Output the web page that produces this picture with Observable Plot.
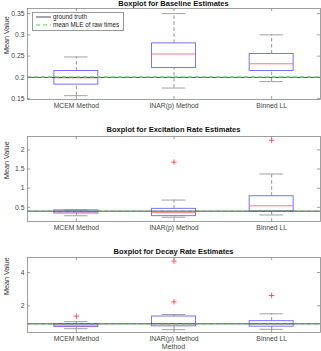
<!DOCTYPE html>
<html>
<head>
<meta charset="utf-8">
<script src="https://cdn.jsdelivr.net/npm/d3@7"></script>
<script src="https://cdn.jsdelivr.net/npm/@observablehq/plot@0.6"></script>
<style>
  body { margin: 0; background: #fff; font-family: "Liberation Sans", Arial, sans-serif; }
  #wrap { position: relative; width: 321px; height: 351px; overflow: hidden; }
  .panel { position: absolute; left: 0; }
  .title { position: absolute; left: 27px; width: 293px; text-align: center; font-weight: bold; font-size: 7.5px; color: #111; }
  .legend { position: absolute; left: 32px; top: 12px; width: 90px; height: 17px; border: 1px solid #999; background: #fff; font-size: 6.3px; color: #222; }
  .legend .row { position: absolute; left: 3px; height: 8px; line-height: 8px; white-space: nowrap; }
  .legend .sw { display: inline-block; width: 15px; vertical-align: middle; margin-right: 2px; }
  .xlabel { position: absolute; left: 27px; width: 293px; text-align: center; font-size: 7px; color: #444; top: 343px; }
</style>
</head>
<body>
<div id="wrap"></div>
<script>
// ---------- data ----------
const categories = ["MCEM Method", "INAR(p) Method", "Binned LL"];

// Baseline estimates
const baseLow = [0.157, 0.175, 0.19];
const baseQ1  = [0.183, 0.222, 0.215];
const baseMed = [0.199, 0.255, 0.232];
const baseQ3  = [0.215, 0.280, 0.255];
const baseHigh = [0.248, 0.350, 0.300];
const baseOutCat = [];
const baseOutVal = [];
const baseTruth = 0.2;
const baseMLE = 0.2015;
const baseTicks = [0.15, 0.2, 0.25, 0.3, 0.35];

// Excitation rate estimates
const excLow = [0.28, 0.24, 0.30];
const excQ1  = [0.34, 0.27, 0.39];
const excMed = [0.38, 0.36, 0.54];
const excQ3  = [0.42, 0.46, 0.79];
const excHigh = [0.43, 0.69, 1.37];
const excOutCat = [2, 3];
const excOutVal = [1.68, 2.25];
const excTruth = 0.4;
const excMLE = 0.4;
const excTicks = [0.5, 1, 1.5, 2];

// Decay rate estimates
const decLow = [0.63, 0.57, 0.59];
const decQ1  = [0.73, 0.77, 0.75];
const decMed = [0.80, 0.93, 0.93];
const decQ3  = [0.89, 1.36, 1.08];
const decHigh = [1.05, 1.48, 1.52];
const decOutCat = [1, 2, 2, 3];
const decOutVal = [1.38, 4.68, 2.24, 2.62];
const decTruth = 0.92;
const decMLE = 0.92;
const decTicks = [2, 4];

// ---------- drawing ----------
const wrap = document.getElementById("wrap");
const W = 321, ML = 27, MR = 1;
const boxHalf = 0.225, capHalf = 0.12;

function panel(o) {
  const rows = categories.map((c, k) => ({
    i: k + 1, lo: o.low[k], q1: o.q1[k], med: o.med[k], q3: o.q3[k], hi: o.high[k]
  }));
  const outs = o.outCat.map((c, k) => ({i: c, v: o.outVal[k]}));
  const H = o.height - o.mt - o.mb;
  const chart = Plot.plot({
    width: W, height: o.height,
    marginLeft: ML, marginRight: MR, marginTop: o.mt, marginBottom: o.mb,
    style: {fontFamily: "Liberation Sans, Arial, sans-serif", fontSize: "6.8px", color: "#444", background: "#fff"},
    x: {type: "linear", domain: [0.5, 3.5]},
    y: {domain: o.yDomain},
    marks: [
      // whiskers
      Plot.ruleX(rows, {x: "i", y1: "q3", y2: "hi", stroke: "#777", strokeWidth: 0.8, strokeDasharray: "3.5,2.5"}),
      Plot.ruleX(rows, {x: "i", y1: "lo", y2: "q1", stroke: "#777", strokeWidth: 0.8, strokeDasharray: "3.5,2.5"}),
      Plot.ruleY(rows, {y: "hi", x1: d => d.i - capHalf, x2: d => d.i + capHalf, stroke: "#888", strokeWidth: 0.8}),
      Plot.ruleY(rows, {y: "lo", x1: d => d.i - capHalf, x2: d => d.i + capHalf, stroke: "#888", strokeWidth: 0.8}),
      // boxes
      Plot.rect(rows, {x1: d => d.i - boxHalf, x2: d => d.i + boxHalf, y1: "q1", y2: "q3", fill: "none", stroke: "#7474ff", strokeWidth: 1}),
      Plot.ruleY(rows, {y: "med", x1: d => d.i - boxHalf, x2: d => d.i + boxHalf, stroke: "#f07070", strokeWidth: 0.9}),
      // outliers
      Plot.dot(outs, {x: "i", y: "v", symbol: "plus", r: 1.9, stroke: "#ff3030", strokeWidth: 0.8}),
      // reference lines
      Plot.ruleY([o.truth], {stroke: "#222", strokeWidth: 0.8}),
      Plot.ruleY([o.mle], {stroke: o.mleColor, strokeWidth: o.mleWidth, strokeDasharray: "4,3"}),
      // inward ticks
      Plot.tickY(o.ticks, {y: d => d, insetRight: W - ML - MR - 3, stroke: "#777", strokeWidth: 0.7}),
      Plot.tickY(o.ticks, {y: d => d, insetLeft: W - ML - MR - 3, stroke: "#777", strokeWidth: 0.7}),
      Plot.tickX([1, 2, 3], {x: d => d, insetTop: H - 3, stroke: "#777", strokeWidth: 0.7}),
      Plot.tickX([1, 2, 3], {x: d => d, insetBottom: H - 3, stroke: "#777", strokeWidth: 0.7}),
      Plot.frame({stroke: "#888", strokeWidth: 0.8}),
      Plot.axisY({ticks: o.ticks, tickFormat: d => String(d), tickSize: 0, tickPadding: 3, label: null}),
      Plot.axisX({ticks: [1, 2, 3], tickFormat: d => categories[d - 1], tickSize: 0, tickPadding: 4, label: null}),
      Plot.text(["Mean Value"], {frameAnchor: "left", dx: -21, rotate: -90, fontSize: 7.2, fill: "#333"})
    ]
  });
  chart.classList.add("panel");
  chart.style.top = o.top + "px";
  wrap.appendChild(chart);
  const t = document.createElement("div");
  t.className = "title";
  t.textContent = o.title;
  t.style.top = o.titleTop + "px";
  wrap.appendChild(t);
}

panel({title: "Boxplot for Baseline Estimates", top: 0, height: 115, mt: 8, mb: 16, titleTop: -1,
  low: baseLow, q1: baseQ1, med: baseMed, q3: baseQ3, high: baseHigh, outCat: baseOutCat, outVal: baseOutVal,
  truth: baseTruth, mle: baseMLE, ticks: baseTicks, yDomain: [0.148, 0.362], mleColor: "#86e486", mleWidth: 1.4});
panel({title: "Boxplot for Excitation Rate Estimates", top: 115, height: 122, mt: 21, mb: 16, titleTop: 125,
  low: excLow, q1: excQ1, med: excMed, q3: excQ3, high: excHigh, outCat: excOutCat, outVal: excOutVal,
  truth: excTruth, mle: excMLE, ticks: excTicks, yDomain: [0.13, 2.35], mleColor: "#4caf4c", mleWidth: 1});
panel({title: "Boxplot for Decay Rate Estimates", top: 237, height: 114, mt: 20, mb: 19, titleTop: 247,
  low: decLow, q1: decQ1, med: decMed, q3: decQ3, high: decHigh, outCat: decOutCat, outVal: decOutVal,
  truth: decTruth, mle: decMLE, ticks: decTicks, yDomain: [0.4, 4.9], mleColor: "#4caf4c", mleWidth: 1});

// legend (panel 1)
const lg = document.createElement("div");
lg.className = "legend";
lg.innerHTML =
  '<div class="row" style="top:0px"><svg class="sw" width="15" height="4"><line x1="0" y1="2" x2="15" y2="2" stroke="#222" stroke-width="0.8"/></svg>ground truth</div>' +
  '<div class="row" style="top:8px"><svg class="sw" width="15" height="4"><line x1="0" y1="2" x2="15" y2="2" stroke="#86e486" stroke-width="1.4" stroke-dasharray="4,3"/></svg>mean MLE of raw times</div>';
wrap.appendChild(lg);

const xl = document.createElement("div");
xl.className = "xlabel";
xl.textContent = "Method";
wrap.appendChild(xl);
</script>
</body>
</html>
